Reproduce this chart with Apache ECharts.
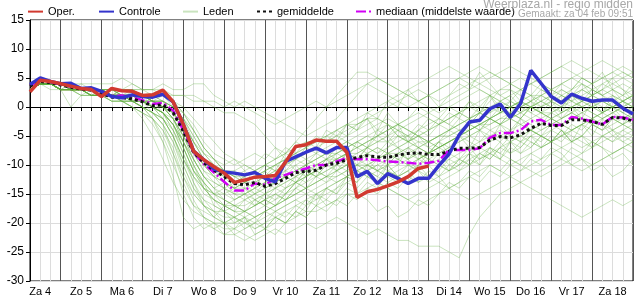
<!DOCTYPE html>
<html>
<head>
<meta charset="utf-8">
<title>Weerplaza pluim</title>
<script src="https://cdn.jsdelivr.net/npm/echarts@6.0.0/dist/echarts.min.js"></script>
<style>
	html, body {margin: 0; padding: 0; background: #fff;}
	#main {width: 635px; height: 300px;}
</style>
</head>
<body>
<div id="main"></div>
<script>
// dagen (label op 12 uur)
var dayLabels = ['Za 4', 'Zo 5', 'Ma 6', 'Di 7', 'Wo 8', 'Do 9', 'Vr 10', 'Za 11', 'Zo 12', 'Ma 13', 'Di 14', 'Wo 15', 'Do 16', 'Vr 17', 'Za 18'];
var yTicks = [-30, 15, 5]; // min, max, stap

// operationele run (loopt tot Ma 13)
var oper = [2.6, 4.6, 4.4, 4.0, 3.6, 3.2, 3.0, 1.8, 3.2, 2.8,
	2.7, 2.0, 2.1, 2.9, 0.9, -3.0, -7.6, -9.1, -10.3, -11.4,
	-13.0, -12.6, -12.1, -12.0, -11.8, -9.5, -6.8, -6.5, -5.7, -5.9,
	-5.9, -7.8, -15.6, -14.6, -14.2, -13.6, -12.9, -12.0, -10.6, -10.2];
// controle run
var controle = [3.9, 5.0, 4.4, 4.0, 4.1, 3.2, 3.3, 2.7, 1.8, 1.6,
	2.1, 1.8, 1.7, 2.2, 0.9, -3.0, -7.6, -9.1, -10.7, -11.2,
	-11.4, -11.7, -11.3, -12.3, -12.9, -9.4, -8.6, -7.8, -7.1, -7.9,
	-7.0, -7.0, -12.0, -11.1, -13.2, -11.5, -12.3, -13.2, -12.3, -12.3,
	-10.1, -8.1, -4.8, -2.6, -2.3, -0.3, 0.5, -1.8, 0.6, 6.3,
	4.1, 1.8, 0.7, 2.2, 1.5, 1.0, 1.2, 1.2, -0.2, -1.2];
// gemiddelde
var gemiddelde = [3.6, 4.4, 4.2, 3.8, 3.4, 3.1, 2.9, 2.3, 1.7, 1.6,
	1.4, 0.9, 0.2, 0.4, -1.0, -4.2, -7.8, -9.6, -10.9, -12.0,
	-13.2, -13.4, -13.0, -13.7, -13.2, -12.3, -11.3, -11.1, -10.9, -10.0,
	-9.7, -9.1, -8.7, -8.4, -8.6, -8.7, -8.3, -8.0, -7.9, -8.2,
	-8.2, -7.6, -7.1, -7.1, -7.0, -5.7, -5.1, -5.3, -4.8, -3.7,
	-2.8, -3.2, -3.2, -2.2, -2.2, -2.5, -3.0, -1.8, -1.9, -2.4];
// mediaan
var mediaan = [3.7, 4.5, 4.3, 3.9, 3.5, 3.2, 3.0, 2.4, 1.9, 2.0,
	1.6, 1.2, 0.5, 0.7, -0.6, -4.0, -7.8, -9.8, -11.3, -12.9,
	-14.4, -14.4, -13.2, -13.4, -12.3, -11.7, -11.1, -10.6, -10.0, -10.0,
	-9.4, -8.8, -9.0, -9.0, -9.2, -9.4, -9.5, -9.6, -9.8, -9.6,
	-9.3, -7.4, -7.4, -7.4, -7.1, -5.3, -4.5, -4.5, -4.0, -2.5,
	-2.2, -3.1, -3.1, -1.7, -2.0, -2.5, -3.0, -1.7, -1.8, -2.2];

// ensemble leden
var lid01 = [3,4,4,3,3,3,2,2,1,1, 0,-1,-3,-6,-10,-14,-17,-19,-20,-21, -21,-20,-19,-18,-17,-16,-15,-14,-13,-12, -12,-11,-10,-10,-9,-8,-8,-7,-6,-6, -5,-5,-4,-4,-3,-3,-2,-2,-3,-2, -1,-1,0,1,0,-1,-2,-1,0,1];
var lid02 = [4,5,4,4,3,3,3,2,2,3, 3,2,2,2,1,-1,-4,-7,-9,-11, -12,-12,-11,-10,-9,-8,-7,-6,-6,-5, -4,-3,-3,-2,-2,-3,-4,-5,-7,-8, -7,-6,-5,-3,-1,1,3,3,2,1, 0,1,2,3,4,3,2,3,4,3];
var lid03 = [3,4,4,4,3,3,3,3,2,3, 4,3,3,4,3,3,4,4,2,1, 0,1,0,-1,-2,-3,-4,-5,-4,-3, -2,0,2,4,5,4,3,2,1,0, -1,0,1,2,3,2,1,0,-1,-2, -3,-2,-1,0,1,2,1,0,-1,-2];
var lid04 = [3,4,4,3,3,3,2,2,2,2, 1,0,-2,-6,-12,-19,-21,-20,-21,-22, -22,-23,-22,-21,-22,-20,-19,-18,-18,-17, -16,-15,-15,-14,-13,-14,-15,-16,-15,-14, -13,-12,-11,-10,-9,-8,-9,-10,-9,-8, -7,-6,-5,-6,-7,-6,-5,-4,-5,-6];
var lid05 = [3,4,4,4,3,3,3,2,2,2, 2,1,0,-2,-5,-9,-12,-14,-15,-16, -17,-18,-17,-16,-15,-16,-14,-12,-10,-9, -8,-7,-6,-7,-8,-7,-6,-5,-4,-3, -2,-3,-4,-3,-2,-1,0,1,0,-1, -2,-1,0,2,3,2,1,0,1,2];
var lid06 = [4,4,4,4,4,3,3,3,2,2, 2,2,1,0,-2,-6,-10,-13,-15,-17, -18,-18,-17,-16,-17,-15,-13,-12,-11,-12, -13,-12,-11,-10,-11,-12,-13,-12,-10,-8, -6,-5,-4,-5,-6,-4,-3,-2,-3,-4, -5,-4,-3,-2,-1,-2,-3,-4,-3,-2];
var lid07 = [3,4,4,3,3,2,2,2,1,1, 0,-2,-5,-9,-13,-16,-18,-19,-20,-20, -19,-18,-19,-18,-17,-15,-13,-12,-10,-9, -9,-8,-8,-7,-6,-6,-5,-5,-6,-7, -8,-7,-6,-5,-4,-5,-6,-4,-2,0, 1,2,3,2,1,0,-1,0,1,0];
var lid08 = [3,4,4,4,3,3,3,3,2,2, 2,2,1,1,-1,-4,-8,-11,-12,-13, -14,-14,-13,-12,-11,-10,-9,-8,-7,-6, -5,-4,-3,-2,-1,0,1,2,3,2, 1,2,3,4,5,6,5,4,3,4, 5,6,7,6,5,4,5,6,5,4];
var lid09 = [3,4,4,3,3,3,2,2,2,1, 1,0,-1,-3,-6,-10,-14,-17,-19,-20, -21,-22,-23,-22,-21,-22,-21,-20,-21,-20, -19,-20,-21,-22,-21,-22,-23,-23,-24,-24, -24,-25,-26,-22,-19,-17,-15,-14,-13,-12, -11,-10,-9,-10,-11,-10,-9,-8,-7,-6];
var lid10 = [4,4,4,3,3,3,3,3,3,3, 3,3,2,2,1,0,-2,-4,-6,-8, -9,-10,-11,-10,-9,-8,-6,-4,-2,0, 2,4,6,6,5,4,3,2,1,2, 3,4,5,4,3,2,1,0,-1,0, 1,2,1,0,-1,0,1,2,1,0];
var lid11 = [3,4,4,3,3,3,3,2,2,2, 2,1,1,0,-2,-5,-9,-12,-14,-15, -16,-15,-14,-13,-12,-12,-11,-10,-9,-8, -8,-7,-6,-5,-6,-5,-4,-3,-2,-1, 0,1,2,3,4,5,6,7,6,5, 4,3,2,1,2,3,4,5,6,5];
var lid12 = [3,5,4,4,4,3,3,3,2,2, 2,1,0,-1,-3,-7,-11,-14,-16,-17, -18,-19,-20,-19,-18,-17,-16,-17,-16,-15, -14,-13,-12,-11,-10,-11,-10,-9,-8,-9, -10,-9,-8,-7,-6,-5,-4,-5,-6,-5, -4,-3,-2,-1,-2,-3,-2,-1,0,-1];
var lid13 = [4,4,4,3,3,3,2,2,2,2, 1,1,0,-1,-4,-8,-12,-15,-16,-17, -16,-15,-14,-15,-14,-13,-12,-11,-10,-10, -9,-8,-9,-10,-9,-8,-7,-6,-5,-4, -3,-2,-1,0,-1,-2,-3,-2,-1,0, -1,-2,-3,-4,-3,-2,-1,0,1,0];
var lid14 = [3,4,4,4,4,4,4,4,4,5, 4,3,3,2,1,-1,-4,-7,-9,-11, -12,-13,-12,-11,-10,-9,-8,-7,-6,-6, -5,-6,-7,-6,-5,-4,-3,-2,-1,-2, -3,-2,-1,0,1,2,3,4,5,4, 3,2,1,2,3,4,5,6,7,6];
var lid15 = [3,4,4,3,0,2,2,2,2,1, 1,1,0,-1,-3,-6,-10,-13,-15,-16, -17,-17,-16,-15,-14,-13,-12,-11,-12,-11, -10,-11,-12,-11,-10,-9,-8,-7,-8,-9, -10,-11,-10,-9,-8,-7,-8,-9,-10,-11, -12,-11,-10,-9,-8,-7,-6,-5,-6,-7];
var lid16 = [3,4,4,4,3,3,3,3,3,3, 3,3,3,3,2,2,2,1,1,0, 1,0,-1,-2,-3,-2,-1,0,1,0, 1,2,3,4,3,2,1,0,1,2, 3,4,5,6,7,6,5,4,3,4, 5,6,7,8,7,6,5,4,5,6];
var lid17 = [3,4,4,3,3,3,2,2,2,2, 1,0,-1,-2,-4,-8,-13,-17,-19,-20, -20,-19,-18,-17,-16,-15,-14,-13,-12,-11, -10,-9,-8,-7,-6,-5,-7,-8,-9,-8, -7,-6,-5,-4,-3,-2,-1,0,1,2, 4,3,2,1,0,-1,-2,-1,0,1];
var lid18 = [4,4,4,4,3,3,3,2,2,2, 2,2,1,0,-1,-3,-6,-9,-11,-12, -13,-14,-15,-14,-13,-12,-11,-10,-9,-8, -7,-6,-7,-8,-9,-8,-7,-6,-5,-6, -7,-8,-9,-8,-7,-6,-5,-4,-3,-4, -5,-6,-5,-4,-3,-2,-1,-2,-3,-2];
var lid19 = [3,4,4,3,3,3,3,3,2,2, 2,1,0,-2,-5,-9,-13,-16,-18,-19, -19,-20,-21,-20,-19,-18,-17,-16,-15,-14, -13,-12,-11,-10,-11,-12,-11,-10,-9,-8, -7,-6,-5,-6,-7,-8,-7,-6,-5,-4, -5,-6,-7,-8,-9,-10,-9,-8,-7,-8];
var lid20 = [3,4,4,4,3,3,3,3,3,2, 2,2,2,1,0,-2,-5,-8,-10,-11, -11,-10,-11,-12,-11,-10,-9,-8,-7,-8, -9,-8,-7,-6,-5,-4,-3,-4,-5,-4, -3,-2,-1,-2,-3,-4,-5,-6,-5,-4, -3,-2,-1,0,1,2,3,2,1,2];
var lid21 = [3,4,4,3,3,3,3,2,2,2, 1,1,0,-1,-3,-7,-11,-14,-16,-17, -17,-16,-15,-16,-17,-16,-15,-14,-13,-12, -11,-10,-9,-8,-7,-8,-9,-10,-11,-12, -13,-14,-15,-16,-15,-14,-13,-12,-11,-10, -9,-8,-7,-6,-5,-6,-7,-8,-7,-6];
var lid22 = [4,4,4,4,3,3,3,3,2,2, 2,1,1,0,-1,-4,-8,-10,-12,-13, -14,-13,-12,-11,-10,-9,-8,-9,-10,-9, -8,-7,-6,-5,-4,-3,-5,-6,-7,-6, -5,-4,-3,-2,-1,0,-1,-1,0,1, 2,3,4,5,4,3,2,1,2,3];
var lid23 = [3,4,4,3,3,3,3,3,3,3, 3,2,2,2,2,2,1,1,0,-1, -1,-2,-3,-5,-7,-9,-11,-12,-11,-10, -9,-8,-7,-6,-5,-4,-3,-4,-5,-6, -7,-6,-5,-4,-3,-2,-1,0,1,0, -1,-2,-3,-2,-1,0,1,0,-1,-2];
var lid24 = [3,4,4,3,3,2,2,2,2,1, 1,0,-2,-4,-8,-12,-15,-17,-18,-18, -19,-18,-17,-16,-15,-14,-13,-14,-15,-14, -13,-12,-11,-12,-13,-14,-15,-16,-17,-16, -15,-14,-13,-12,-11,-10,-11,-12,-13,-14, -15,-16,-17,-18,-19,-18,-17,-16,-17,-16];
var lid25 = [3,4,4,4,3,3,3,2,2,2, 2,1,1,0,-2,-5,-8,-11,-13,-14, -15,-15,-14,-13,-12,-11,-10,-9,-8,-7, -6,-5,-4,-3,-2,-3,-5,-6,-7,-8, -7,-6,-5,-4,-3,-2,-1,0,1,2, 2,1,0,-1,-2,-3,-4,-3,-2,-3];
var lid26 = [4,4,4,4,4,3,3,3,3,2, 2,2,1,0,-1,-3,-7,-10,-12,-14, -15,-16,-15,-14,-13,-12,-13,-12,-11,-10, -9,-10,-11,-12,-11,-10,-9,-8,-7,-6, -5,-4,-3,-2,-1,-2,-3,-4,-5,-6, -7,-6,-5,-4,-3,-4,-5,-6,-5,-4];
var lid27 = [3,4,4,3,3,3,2,2,1,1, 1,0,-1,-2,-5,-9,-12,-14,-15,-15, -14,-13,-12,-11,-10,-9,-8,-7,-6,-5, -4,-3,-2,-1,0,1,2,3,4,5, 6,7,6,5,4,3,2,1,0,1, 2,3,4,5,6,7,8,7,6,5];
var lid28 = [3,4,4,4,3,3,3,3,2,2, 2,2,1,1,0,-3,-6,-9,-11,-13, -14,-15,-16,-17,-18,-17,-16,-15,-14,-13, -12,-11,-10,-11,-12,-13,-12,-11,-10,-9, -8,-7,-6,-5,-4,-3,-2,-1,-2,-3, -4,-3,-2,-1,0,1,0,-1,-2,-1];
var lid29 = [3,4,4,3,3,3,3,2,2,2, 2,1,0,-1,-3,-6,-9,-12,-14,-16, -17,-18,-19,-18,-17,-16,-15,-14,-13,-12, -11,-10,-9,-8,-7,-8,-9,-10,-9,-8, -7,-6,-5,-4,-3,-2,-1,0,1,0, -1,-2,-3,-4,-3,-2,-1,0,1,2];
var lid30 = [3,4,4,3,3,3,3,3,2,2, 2,2,1,0,-2,-5,-9,-12,-13,-14, -13,-12,-11,-10,-11,-12,-11,-10,-9,-8, -7,-6,-5,-4,-3,-2,-3,-4,-5,-6, -5,-4,-3,-2,-1,0,1,2,3,2, 1,0,-1,0,1,2,3,4,3,2];
var lid31 = [3,4,3,3,4,3,2,3,2,1, 0,-1,-2,-5,-9,-15,-19,-21,-20,-22, -21,-19,-21,-20,-18,-19,-17,-18,-15,-17, -16,-14,-15,-13,-14,-11,-12,-13,-10,-12, -11,-9,-10,-8,-10,-7,-9,-6,-8,-7, -5,-6,-4,-6,-3,-5,-2,-4,-3,-1];
var lid32 = [4,4,4,3,3,4,3,2,3,2, 3,2,1,2,0,-2,-6,-9,-10,-12, -11,-13,-12,-10,-11,-8,-9,-7,-8,-5, -6,-3,-4,-1,-2,1,0,3,1,2, 0,2,4,3,6,4,2,3,1,-1, 0,2,1,3,5,4,6,3,2,4];
var lid33 = [3,4,4,3,3,2,3,2,2,2, 1,2,0,-1,-4,-7,-11,-13,-17,-18, -20,-19,-22,-21,-19,-20,-18,-16,-17,-14, -15,-12,-13,-10,-11,-9,-10,-7,-9,-8, -6,-8,-5,-7,-4,-6,-3,-5,-2,-4, -3,-1,-2,0,-2,1,-1,2,0,-1];
var lid34 = [3,4,4,4,3,3,3,2,3,2, 2,1,1,-1,-2,-5,-8,-10,-12,-11, -13,-12,-14,-11,-13,-12,-10,-12,-11,-9, -11,-10,-12,-11,-13,-10,-12,-11,-9,-10, -8,-10,-9,-7,-9,-8,-6,-8,-7,-5, -7,-6,-4,-6,-5,-7,-5,-4,-6,-5];
var lid35 = [3,5,4,4,3,3,2,3,2,2, 1,0,-1,-3,-8,-13,-17,-18,-19,-17, -18,-16,-17,-15,-16,-14,-13,-11,-12,-10, -8,-9,-6,-7,-4,-5,-3,-6,-4,-2, -3,-1,-2,1,0,2,-1,1,3,2, 0,1,-1,2,4,2,3,5,3,1];
var lid36 = [4,4,4,4,3,3,3,3,2,3, 2,2,1,1,0,-1,-3,-6,-8,-9, -10,-9,-8,-9,-7,-8,-6,-7,-5,-6, -4,-5,-3,-2,-4,-1,-3,-2,0,-1, -2,0,-1,1,-1,2,0,-2,-1,1, -1,0,-2,-1,1,0,-1,1,-1,0];
var lid37 = [3,4,4,3,3,3,2,2,2,1, 1,0,-1,-3,-6,-11,-15,-17,-18,-20, -19,-21,-20,-18,-19,-20,-18,-19,-17,-18, -16,-17,-15,-16,-18,-17,-19,-18,-16,-17, -15,-13,-14,-12,-13,-11,-12,-10,-11,-9, -10,-8,-9,-7,-8,-6,-7,-9,-8,-10];
var lid38 = [3,4,4,3,4,3,3,2,2,2, 2,1,0,0,-2,-6,-9,-12,-14,-13, -15,-14,-16,-15,-13,-14,-12,-13,-11,-12, -10,-8,-9,-7,-8,-6,-7,-9,-8,-10, -9,-11,-10,-8,-9,-7,-8,-6,-7,-5, -6,-4,-5,-3,-4,-2,-3,-5,-4,-3];
var lid39 = [4,4,4,3,3,3,3,3,2,2, 2,2,2,1,0,-2,-4,-7,-9,-10, -9,-11,-10,-8,-9,-7,-8,-6,-7,-4, -5,-3,-4,-2,-5,-3,-4,-6,-5,-7, -6,-4,-5,-3,-4,-2,-3,-1,-2,0, -1,1,0,2,1,3,2,0,1,-1];
var lid40 = [3,4,4,3,3,3,2,2,2,2, 1,1,-1,-2,-5,-10,-14,-16,-17,-18, -17,-18,-16,-17,-15,-16,-14,-15,-16,-14, -15,-13,-14,-12,-13,-11,-12,-10,-11,-13, -12,-14,-13,-11,-12,-10,-11,-9,-10,-8, -9,-7,-8,-10,-9,-11,-10,-12,-11,-9];
var lid41 = [3,4,4,4,3,3,3,3,2,2, 2,1,1,0,-1,-4,-7,-10,-11,-12, -14,-13,-15,-13,-14,-12,-13,-11,-12,-10, -11,-9,-10,-8,-9,-7,-5,-6,-4,-5, -3,-4,-2,-3,-1,-2,0,-1,1,0, 2,1,3,2,0,1,-1,0,-2,-1];
var lid42 = [3,4,4,3,3,3,3,2,2,2, 2,1,0,-1,-3,-6,-10,-14,-16,-18, -19,-20,-19,-21,-20,-18,-19,-17,-15,-16, -14,-12,-13,-11,-12,-10,-8,-9,-7,-8, -6,-7,-5,-3,-4,-2,-3,-1,-2,0, 1,0,2,1,3,2,4,3,2,1];
var lid43 = [4,4,4,4,3,3,3,3,3,2, 2,2,1,1,0,-2,-5,-8,-9,-11, -12,-11,-13,-12,-10,-11,-9,-10,-8,-9, -7,-8,-10,-9,-11,-10,-12,-11,-13,-12, -10,-11,-9,-10,-8,-9,-7,-5,-6,-4, -5,-3,-4,-6,-5,-3,-4,-2,-3,-4];
var lid44 = [3,4,4,3,3,3,2,2,1,1, 0,-1,-2,-4,-7,-12,-16,-19,-21,-20, -22,-21,-20,-21,-19,-20,-18,-19,-17,-16, -17,-15,-16,-14,-15,-13,-14,-12,-13,-11, -12,-10,-11,-9,-10,-8,-9,-7,-8,-6, -7,-5,-6,-4,-5,-3,-4,-2,-3,-4];
var lid45 = [3,4,4,4,3,3,3,3,2,2, 2,2,1,1,-1,-3,-6,-8,-10,-11, -12,-13,-12,-14,-13,-11,-12,-10,-11,-9, -10,-8,-9,-7,-5,-6,-4,-5,-3,-4, -2,-3,-1,-2,0,-1,1,2,0,1, 3,2,4,3,5,4,2,3,1,2];
var lid46 = [3,4,4,3,3,3,2,2,2,2, 1,1,0,-1,-3,-7,-11,-13,-15,-14, -16,-15,-17,-16,-14,-15,-13,-14,-12,-13, -11,-12,-10,-11,-9,-10,-8,-9,-11,-10, -12,-11,-9,-10,-8,-9,-7,-8,-6,-7, -5,-6,-4,-5,-6,-7,-5,-6,-4,-5];
var leden = [lid01, lid02, lid03, lid04, lid05, lid06, lid07, lid08, lid09, lid10,
	lid11, lid12, lid13, lid14, lid15, lid16, lid17, lid18, lid19, lid20,
	lid21, lid22, lid23, lid24, lid25, lid26, lid27, lid28, lid29, lid30,
	lid31, lid32, lid33, lid34, lid35, lid36, lid37, lid38, lid39, lid40,
	lid41, lid42, lid43, lid44, lid45, lid46];

// tijdas: uren vanaf za 4 00:00, elke 6 uur, van 06 uur tot zo 19 00 uur
var hours = [];
for (var h = 6; h <= 360; h += 6) {
	hours.push(String(h));
}

var font = '"Liberation Sans", Arial, sans-serif';

var series = [];
// leden eerst, onderaan
for (var i = 0; i < leden.length; i++) {
	series.push({
		name: 'Leden',
		type: 'line',
		data: leden[i],
		symbol: 'none',
		silent: true,
		itemStyle: {color: '#5fae3e'},
		lineStyle: {color: '#5fae3e', width: 1, opacity: 0.33},
		z: 2
	});
}
series.push({
	name: 'mediaan (middelste waarde)',
	type: 'line',
	data: mediaan,
	symbol: 'none',
	itemStyle: {color: '#d100f5'},
	lineStyle: {color: '#d100f5', width: 2.5, type: [10, 3, 2, 3]},
	z: 3
});
series.push({
	name: 'gemiddelde',
	type: 'line',
	data: gemiddelde,
	symbol: 'none',
	itemStyle: {color: '#111'},
	lineStyle: {color: '#111', width: 3, type: [3, 3]},
	z: 4
});
series.push({
	name: 'Controle',
	type: 'line',
	data: controle,
	symbol: 'none',
	itemStyle: {color: '#3434cc'},
	lineStyle: {color: '#3434cc', width: 3.5},
	z: 5
});
series.push({
	name: 'Oper.',
	type: 'line',
	data: oper,
	symbol: 'none',
	itemStyle: {color: '#d13a30'},
	lineStyle: {color: '#d13a30', width: 3.5},
	z: 6
});

// legenda: elk item apart geplaatst, alleen lijntje (geen bolletje)
function legendItem(name, left) {
	return {
		data: [name],
		left: left,
		top: 6,
		padding: 0,
		itemWidth: 15,
		itemHeight: 14,
		itemGap: 0,
		selectedMode: false,
		itemStyle: {opacity: 0},
		textStyle: {fontSize: 11, color: '#000', fontFamily: font}
	};
}

var myChart = echarts.init(document.getElementById('main'), null, {renderer: 'canvas'});
var option = {
	animation: false,
	backgroundColor: '#fff',
	title: [{
		text: 'Weerplaza.nl - regio midden',
		right: 2,
		top: -1,
		padding: 0,
		textStyle: {fontSize: 12, color: '#a8a8a8', fontWeight: 'normal', fontFamily: font}
	}, {
		text: 'Gemaakt: za 04 feb 09:51',
		right: 2,
		top: 9,
		padding: 0,
		textStyle: {fontSize: 10, color: '#a8a8a8', fontWeight: 'normal', fontFamily: font}
	}],
	legend: [
		legendItem('Oper.', 27),
		legendItem('Controle', 98),
		legendItem('Leden', 182),
		legendItem('gemiddelde', 256),
		legendItem('mediaan (middelste waarde)', 355)
	],
	grid: {
		left: 30,
		right: 2,
		top: 20,
		bottom: 19,
		show: true,
		borderColor: '#000',
		borderWidth: 1,
		backgroundColor: 'transparent'
	},
	xAxis: [{
		type: 'category',
		data: hours,
		boundaryGap: false,
		axisLine: {lineStyle: {color: '#000', width: 1}},
		axisTick: {show: true, interval: 0, length: 4, lineStyle: {color: '#000'}},
		axisLabel: {
			interval: function (index) {
				return Number(hours[index]) % 24 === 12;
			},
			formatter: function (value) {
				return dayLabels[(Number(value) - 12) / 24];
			},
			fontSize: 11,
			color: '#000',
			margin: 5,
			fontFamily: font
		},
		splitLine: {
			show: true,
			interval: function (index) {
				return Number(hours[index]) % 24 !== 0;
			},
			lineStyle: {color: '#dcdcdc', width: 1}
		}
	}, {
		// donkere lijnen op middernacht
		type: 'category',
		data: hours,
		boundaryGap: false,
		position: 'bottom',
		axisLine: {show: false},
		axisTick: {show: false},
		axisLabel: {show: false},
		splitLine: {
			show: true,
			interval: function (index) {
				return Number(hours[index]) % 24 === 0;
			},
			lineStyle: {color: '#555', width: 1}
		}
	}],
	yAxis: {
		type: 'value',
		min: yTicks[0],
		max: yTicks[1],
		interval: yTicks[2],
		axisLine: {show: true, lineStyle: {color: '#000'}},
		axisTick: {show: true, length: 4, lineStyle: {color: '#000'}},
		axisLabel: {fontSize: 12, color: '#000', margin: 6, fontFamily: font},
		splitLine: {show: true, lineStyle: {color: '#dcdcdc', width: 1}}
	},
	series: series
};
myChart.setOption(option);
</script>
</body>
</html>
